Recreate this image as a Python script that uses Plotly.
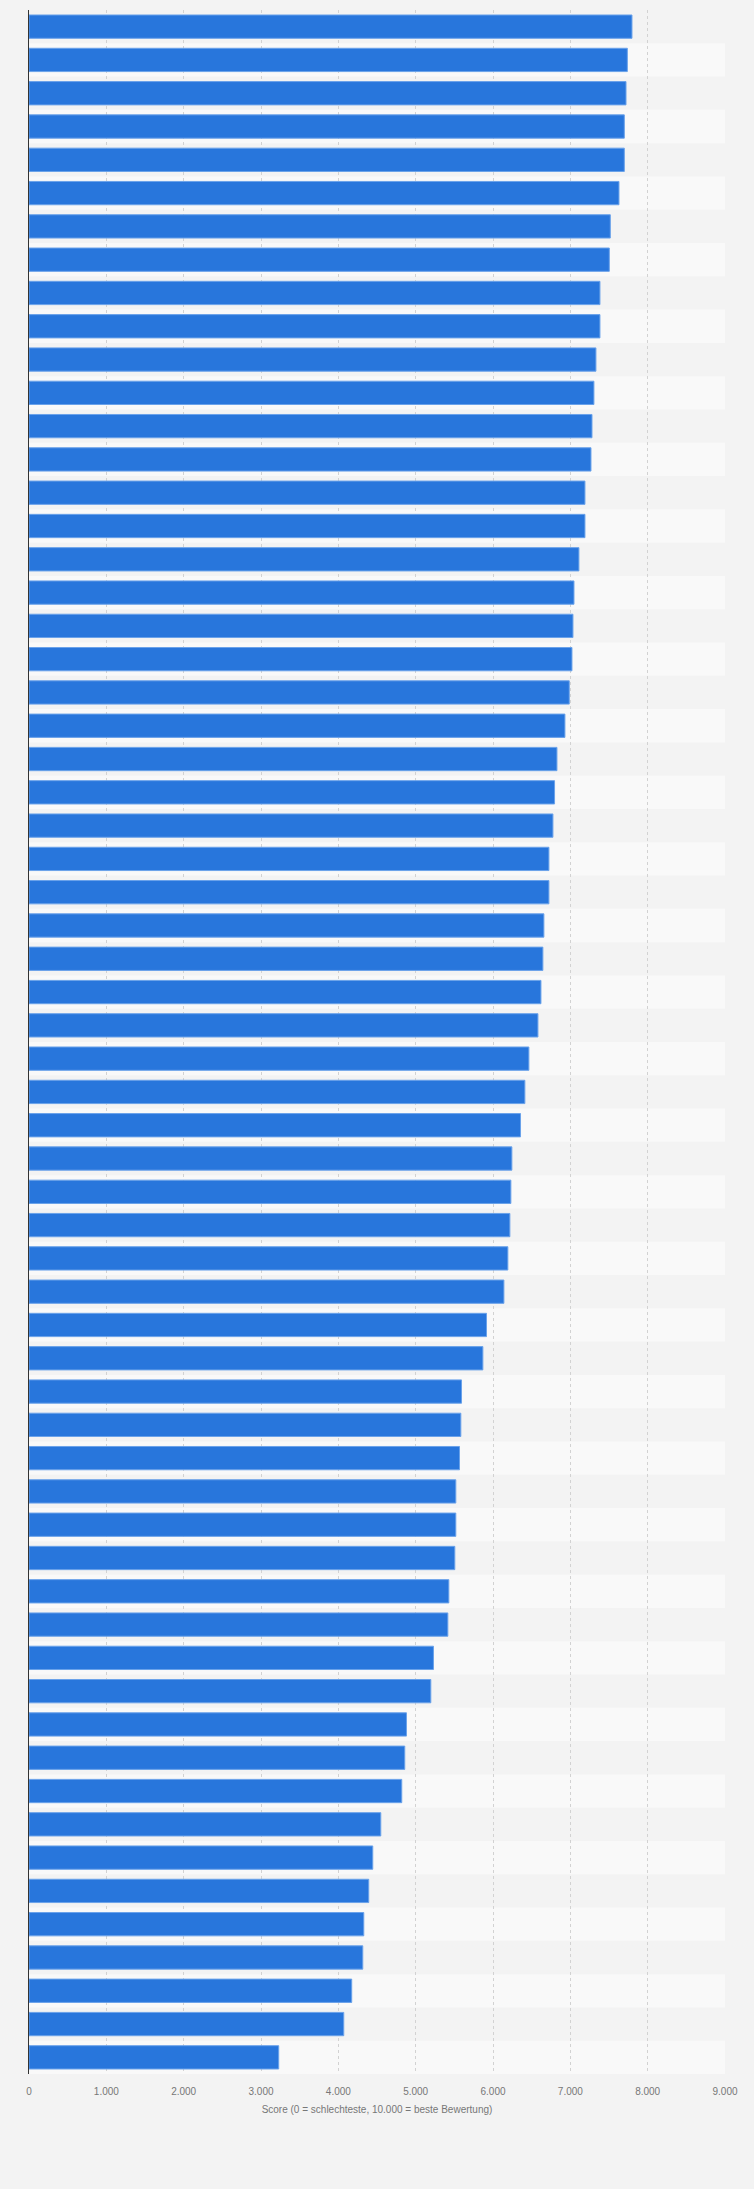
import plotly.graph_objects as go

# Ranking, top to bottom (labels are not shown in the chart)
ranks = [f"Platz {i}" for i in range(1, 63)]

scores = [
    7797, 7737, 7720, 7698, 7698, 7629, 7517, 7504, 7383, 7383, 7331,
    7305, 7280, 7267, 7189, 7189, 7111, 7047, 7034, 7021, 6986, 6930,
    6827, 6796, 6775, 6723, 6723, 6658, 6645, 6620, 6581, 6464, 6412,
    6356, 6244, 6231, 6218, 6192, 6141, 5916, 5869, 5593, 5584, 5567,
    5519, 5519, 5506, 5429, 5416, 5230, 5196, 4881, 4859, 4820,
    4549, 4445, 4393, 4329, 4316, 4173, 4070, 3229,
]

x_ticks = [0, 1000, 2000, 3000, 4000, 5000, 6000, 7000, 8000, 9000]
x_title = "Score (0 = schlechteste, 10.000 = beste Bewertung)"

fig = go.Figure()

fig.add_trace(go.Bar(
    y=ranks, x=scores, orientation="h",
    marker=dict(color="#2876dc", line=dict(color="#6aa2ea", width=1)),
    hoverinfo="x+y", showlegend=False,
))

# alternating row stripes behind the gridlines
stripes = []
for i, _ in enumerate(ranks):
    if i % 2 == 1:
        stripes.append(dict(type="rect", xref="x domain", yref="y",
                            x0=0, x1=1, y0=i - 0.5, y1=i + 0.5,
                            fillcolor="#f9f9f9", line_width=0, layer="below"))

fig.update_layout(
    width=754, height=2189,
    margin=dict(l=29, r=29, t=10, b=115),
    paper_bgcolor="#f3f3f3", plot_bgcolor="#f3f3f3",
    bargap=0.3,
    separators=",.",
    shapes=stripes,
    font=dict(family="Liberation Sans, Arial, sans-serif", size=10, color="#666666"),
)

fig.update_xaxes(
    range=[0, 9000], tickvals=x_ticks, tickformat=",d",
    showgrid=True, gridcolor="#d2d2d2", gridwidth=1, griddash="dot",
    zeroline=False, showline=False,
    ticks="outside", ticklen=8, tickcolor="rgba(0,0,0,0)",
    tickfont=dict(size=10, color="#777777"),
    title=dict(text=x_title, font=dict(size=10, color="#777777"), standoff=9),
)

fig.update_yaxes(
    autorange="reversed", showticklabels=False, showgrid=False,
    zeroline=False, showline=True, linecolor="#333333", linewidth=1, ticks="",
)

# drop the default page margin so the figure sits flush in the window
page_fix = ("document.body.style.margin='0';"
            "document.body.style.overflow='hidden';"
            "document.body.style.background='#f3f3f3';")
fig.write_html("out.html", post_script=page_fix,
               config={"displayModeBar": False})
